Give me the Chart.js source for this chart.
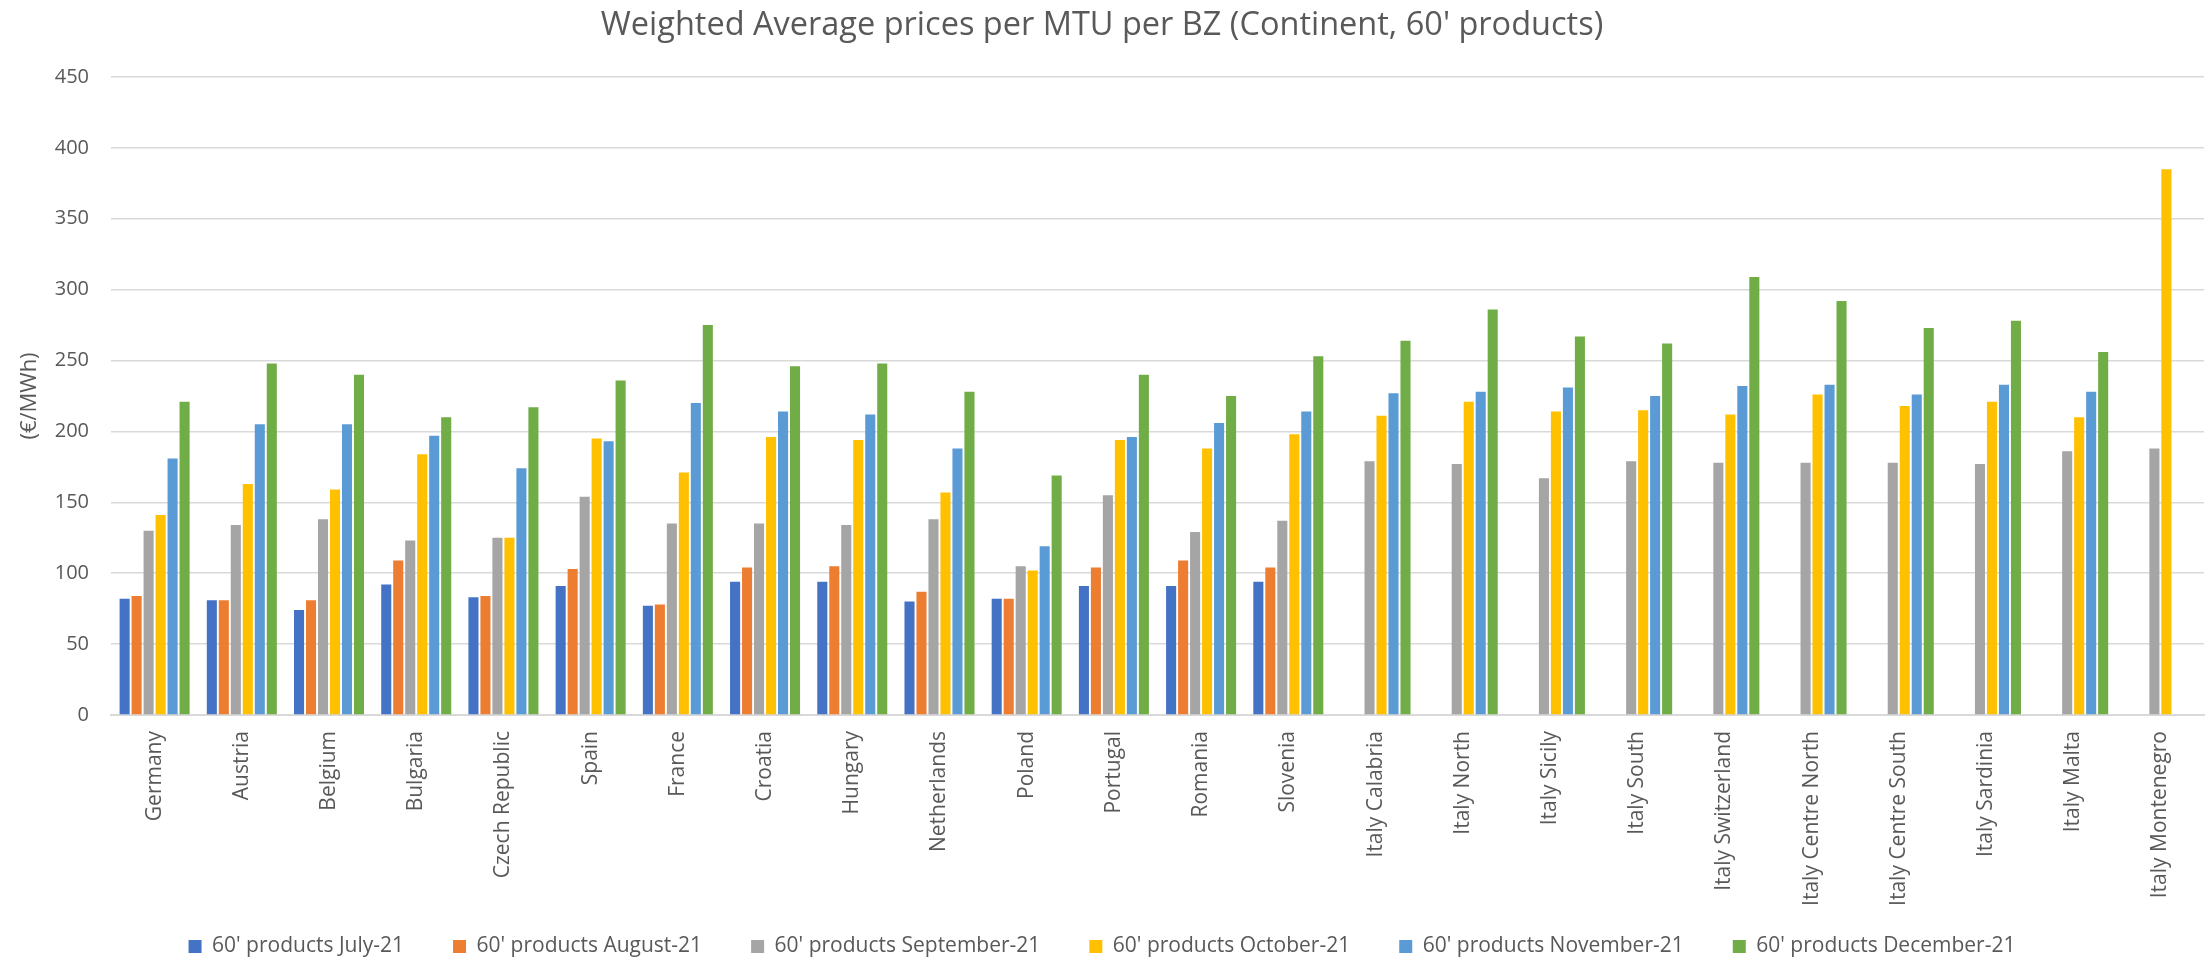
<!DOCTYPE html>
<html>
<head>
<meta charset="utf-8">
<script src="https://cdn.jsdelivr.net/npm/chart.js@4/dist/chart.umd.min.js"></script>
<style>
  html, body { margin: 0; padding: 0; background: #fff; }
  #wrap { width: 2208px; height: 962px; }
</style>
</head>
<body>
<div id="wrap"><canvas id="myChart" width="2208" height="962"></canvas></div>
<script>
const zones = ['Germany', 'Austria', 'Belgium', 'Bulgaria', 'Czech Republic', 'Spain', 'France',
  'Croatia', 'Hungary', 'Netherlands', 'Poland', 'Portugal', 'Romania', 'Slovenia',
  'Italy Calabria', 'Italy North', 'Italy Sicily', 'Italy South', 'Italy Switzerland',
  'Italy Centre North', 'Italy Centre South', 'Italy Sardinia', 'Italy Malta', 'Italy Montenegro'];

const july = [82, 81, 74, 92, 83, 91, 77, 94, 94, 80, 82, 91, 91, 94,
  null, null, null, null, null, null, null, null, null, null];
const august = [84, 81, 81, 109, 84, 103, 78, 104, 105, 87, 82, 104, 109, 104,
  null, null, null, null, null, null, null, null, null, null];
const september = [130, 134, 138, 123, 125, 154, 135, 135, 134, 138, 105, 155, 129, 137,
  179, 177, 167, 179, 178, 178, 178, 177, 186, 188];
const october = [141, 163, 159, 184, 125, 195, 171, 196, 194, 157, 102, 194, 188, 198,
  211, 221, 214, 215, 212, 226, 218, 221, 210, 385];
const november = [181, 205, 205, 197, 174, 193, 220, 214, 212, 188, 119, 196, 206, 214,
  227, 228, 231, 225, 232, 233, 226, 233, 228, null];
const december = [221, 248, 240, 210, 217, 236, 275, 246, 248, 228, 169, 240, 225, 253,
  264, 286, 267, 262, 309, 292, 273, 278, 256, null];

const seriesNames = ["60' products July-21", "60' products August-21", "60' products September-21",
  "60' products October-21", "60' products November-21", "60' products December-21"];
const seriesColors = ['#4472C4', '#ED7D31', '#A5A5A5', '#FFC000', '#5B9BD5', '#70AD47'];
const yTicks = [0, 50, 100, 150, 200, 250, 300, 350, 400, 450];

const textColor = '#595959';
const gridColor = '#D9D9D9';
const fontFamily = '"Open Sans", "Noto Sans", sans-serif';

const values = [july, august, september, october, november, december];
const datasets = values.map((v, i) => ({
    label: seriesNames[i],
    data: v,
    backgroundColor: seriesColors[i],
    borderWidth: 0,
    categoryPercentage: 0.825,
    barPercentage: 0.84
}));

var ctx = document.getElementById('myChart').getContext('2d');
var myChart = new Chart(ctx, {
    type: 'bar',
    data: {
        labels: zones,
        datasets: datasets
    },
    options: {
        responsive: false,
        animation: false,
        layout: {
            padding: { left: 0, right: 4, top: 0, bottom: -5 }
        },
        plugins: {
            title: {
                display: true,
                text: "Weighted Average prices per MTU per BZ (Continent, 60' products)",
                color: textColor,
                font: { family: fontFamily, size: 32.5, weight: 'normal' },
                padding: { top: 6, bottom: 32 }
            },
            legend: {
                position: 'bottom',
                labels: {
                    color: textColor,
                    font: { family: fontFamily, size: 21 },
                    boxWidth: 13,
                    boxHeight: 13,
                    padding: 49
                }
            },
            tooltip: { enabled: false }
        },
        scales: {
            x: {
                grid: { display: false },
                border: { display: true, color: gridColor, width: 2 },
                ticks: {
                    color: textColor,
                    font: { family: fontFamily, size: 21 },
                    minRotation: 90,
                    maxRotation: 90,
                    autoSkip: false,
                    padding: 8
                },
                afterFit: function (scale) {
                    scale.height = 172;
                    // long labels run below the axis box, do not clip them
                    scale._computeLabelArea = function () { return undefined; };
                }
            },
            y: {
                min: 0,
                max: 450,
                afterBuildTicks: function (scale) {
                    scale.ticks = yTicks.map(v => ({ value: v }));
                },
                grid: { color: gridColor, lineWidth: 1.5, drawTicks: false },
                border: { display: false },
                ticks: {
                    color: textColor,
                    font: { family: fontFamily, size: 20 },
                    padding: 22
                },
                title: {
                    display: true,
                    text: '(€/MWh)',
                    color: textColor,
                    font: { family: fontFamily, size: 22 },
                    padding: { top: 17, bottom: 0 }
                },
                afterFit: function (scale) {
                    scale.width = 111;
                }
            }
        }
    }
});
</script>
</body>
</html>
